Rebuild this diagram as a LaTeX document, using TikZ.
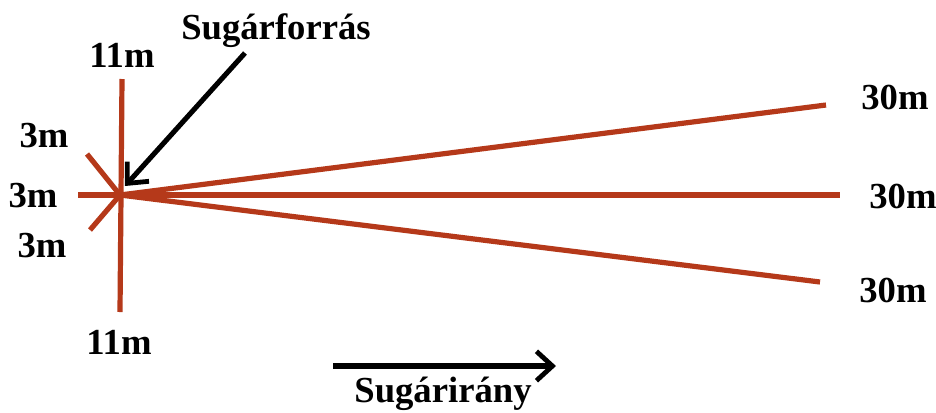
\documentclass[tikz,border=0pt]{standalone}
\usepackage{fontspec}
\setmainfont{Liberation Serif}
\usetikzlibrary{arrows.meta}
\definecolor{ray}{HTML}{B5391A}
\begin{document}
\begin{tikzpicture}[x=0.75pt,y=-0.75pt,
  rayline/.style={draw=ray,line width=3.9pt},
  lbl/.style={font=\fontsize{27.5}{29}\selectfont\bfseries,inner sep=0pt},
  blackarrow/.style={draw=black,line width=3.8pt,-{Straight Barb[length=12pt,width=22pt,line width=3.6pt]}}]
\useasboundingbox (0,0) rectangle (936,412);
\coordinate (c) at (120,195);
\coordinate (top) at (122,79);
\coordinate (bot) at (120,312);
\coordinate (left) at (78,195);
\coordinate (right) at (840,195);
\coordinate (up) at (826,105);
\coordinate (down) at (820,282);
\coordinate (ul) at (87,154);
\coordinate (ll) at (90,230);
\draw[rayline] (top) -- (bot);
\draw[rayline] (left) -- (right);
\draw[rayline] (c) -- (up);
\draw[rayline] (c) -- (down);
\draw[rayline] (ul) -- (c);
\draw[rayline] (ll) -- (c);
\node[lbl] (t11) at (122,55) {11m};
\node[lbl] (b11) at (119,342) {11m};
\node[lbl] (l3a) at (44,136) {3m};
\node[lbl] (l3b) at (33,196) {3m};
\node[lbl] (l3c) at (42,246) {3m};
\node[lbl] (r30a) at (895,97) {30m};
\node[lbl] (r30b) at (903,196) {30m};
\node[lbl] (r30c) at (893,290) {30m};
\node[lbl] (src) at (276,31) {Sugárforrás};
\coordinate (srcend) at (125,186);
\draw[blackarrow] (245,53) -- (srcend);
\node[lbl,anchor=base] (dir) at (443,402) {Sugárirány};
\coordinate (d1) at (333,366);
\coordinate (d2) at (556,366);
\draw[blackarrow] (d1) -- (d2);
\end{tikzpicture}
\end{document}
